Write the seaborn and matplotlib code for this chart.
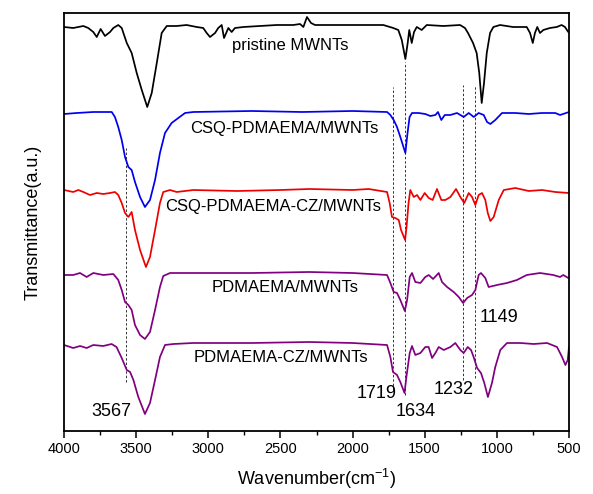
import matplotlib
matplotlib.use("Agg")
import matplotlib.pyplot as plt
import pandas as pd
import seaborn as sns
from matplotlib.ticker import MultipleLocator

# ---- data (wavenumber in cm-1, transmittance in arbitrary units, stacked) ----
pristine_wn = [4000,3936,3866,3832,3797,3773,3746,3716,3681,3658,3624,3600,3565,3531,3496,3461,3423,3392,3357,3323,
               3288,3219,3150,3080,3035,3011,2988,2953,2931,2907,2891,2861,2838,2815,2757,2642,2526,2411,2364,2341,
               2316,2288,2260,2066,1787,1718,1683,1659,1634,1618,1607,1590,1574,1555,1521,1486,1371,1255,1221,1200,
               1165,1140,1122,1105,1089,1070,1047,1024,978,888,793,770,751,736,720,701,678,632,585,551,528,505]
pristine_t = [404,403,405,403,399,394,402,395,399,403,406,403,388,378,358,341,324,338,368,398,
              405,405,406,404,403,398,394,398,403,406,393,403,399,403,404,405,406,406,407,404,
              414,408,406,406,406,403,401,391,372,388,401,388,399,404,401,406,405,406,403,398,
              388,378,358,328,348,378,398,404,406,404,404,398,388,398,404,398,401,403,404,406,404,399]

csq_wn = [4000,3912,3797,3669,3647,3624,3600,3577,3554,3531,3508,3473,3439,3404,3369,3335,3300,3254,3208,3161,
          3104,2700,2350,2000,1761,1738,1715,1692,1669,1634,1619,1605,1588,1542,1496,1461,1426,1408,1385,1361,
          1323,1276,1230,1195,1160,1126,1091,1068,1045,1011,964,872,779,687,595,562,500]
csq_t = [317,318,319,319,314,304,291,274,264,261,249,234,224,231,251,278,298,308,313,318,
         319,320,319,320,319,316,311,304,294,278,298,314,318,318,317,315,316,319,311,316,
         316,318,314,318,314,318,316,309,307,311,318,318,317,318,318,316,319]

csqcz_wn = [4000,3936,3901,3866,3820,3773,3728,3681,3647,3624,3600,3577,3554,3531,3508,3473,3432,3404,3369,3335,
            3312,3265,3219,3104,2800,2500,2300,2000,1888,1761,1743,1727,1704,1680,1664,1636,1626,1612,1600,1576,
            1553,1530,1500,1472,1445,1415,1385,1357,1322,1283,1253,1226,1195,1172,1149,1126,1103,1080,1063,1045,
            1022,987,952,872,779,687,595,500]
csqcz_t = [241,239,241,239,236,238,237,238,239,236,228,218,214,219,201,181,164,174,201,228,
           239,241,239,241,240,241,242,241,242,239,228,214,213,211,201,191,204,228,241,234,
           236,231,238,233,231,242,231,231,234,242,234,228,238,234,226,236,238,231,218,210,
           214,231,241,243,240,241,239,238]

pd_wn = [4000,3936,3889,3843,3797,3728,3658,3624,3600,3577,3554,3531,3508,3473,3439,3404,3369,3335,3312,3265,
         3104,2700,2300,2000,1761,1738,1715,1692,1669,1638,1622,1604,1588,1565,1530,1496,1472,1442,1403,1380,
         1345,1299,1264,1234,1206,1172,1149,1126,1110,1080,1057,999,930,861,793,701,609,562,540,505]
pd_t = [156,156,158,154,158,156,157,151,141,129,126,121,106,96,92,99,121,144,155,158,
        158,158,159,158,156,148,139,138,131,120,131,154,158,149,148,154,156,152,158,149,
        144,139,134,128,133,136,141,156,158,153,144,146,148,151,156,158,156,154,156,153]

pdcz_wn = [4000,3936,3889,3843,3797,3728,3670,3636,3600,3565,3542,3519,3485,3439,3404,3369,3335,3300,3242,3104,
           2700,2300,2000,1761,1738,1720,1692,1669,1640,1627,1604,1588,1565,1530,1496,1473,1449,1426,1403,1368,
           1322,1288,1253,1230,1202,1179,1161,1137,1110,1087,1062,1034,1011,976,930,838,745,652,583,548,
           525,509,500]
pdcz_t = [86,83,85,83,86,85,87,84,73,61,59,51,34,17,28,51,74,86,87,88,
          88,89,88,86,74,59,56,49,38,54,78,85,76,78,84,84,73,78,84,81,
          84,88,81,78,84,81,74,63,58,48,34,48,64,81,88,88,87,88,84,74,
          66,71,84]

series_names = ["pristine MWNTs", "CSQ-PDMAEMA/MWNTs", "CSQ-PDMAEMA-CZ/MWNTs",
                "PDMAEMA/MWNTs", "PDMAEMA-CZ/MWNTs"]
series_colors = ["#000000", "#0000EE", "#EE0000", "#800080", "#800080"]
label_wn = [2434, 2475, 2551, 2465, 2496]
label_t = [386, 303, 225, 143, 74]

peak_wn = [3567, 1719, 1634, 1232, 1149]
peak_low = [49, 41, 36, 51, 53]
peak_high = [283, 344, 369, 346, 346]
peak_text = ["3567", "1719", "1634", "1232", "1149"]
peak_text_wn = [3669, 1833, 1564, 1297, 985]
peak_text_t = [20, 37, 19, 41, 114]

# ---- build long-form table ----
frames = []
for name, wn, t in zip(series_names,
                       [pristine_wn, csq_wn, csqcz_wn, pd_wn, pdcz_wn],
                       [pristine_t, csq_t, csqcz_t, pd_t, pdcz_t]):
    frames.append(pd.DataFrame({"wn": wn, "t": t, "sample": name}))
df = pd.concat(frames, ignore_index=True)

sns.set_style("white")
plt.rcParams["font.family"] = ["Liberation Sans", "DejaVu Sans"]
plt.rcParams["text.color"] = "black"
plt.rcParams["axes.labelcolor"] = "black"
plt.rcParams["xtick.color"] = "black"
plt.rcParams["mathtext.default"] = "regular"

fig = plt.figure(figsize=(5.93, 4.94), dpi=100)
ax = fig.add_axes([64/593, 1-431/494, 505/593, 418/494])

sns.lineplot(data=df, x="wn", y="t", hue="sample", hue_order=series_names,
             palette=dict(zip(series_names, series_colors)), estimator=None,
             sort=True, linewidth=1.25, legend=False, ax=ax)

ax.vlines(peak_wn, peak_low, peak_high, colors="#333333", linestyles=(0, (2.5, 2)),
          linewidth=0.7, zorder=1)

for name, x, y in zip(series_names, label_wn, label_t):
    ax.text(x, y, name, ha="center", va="center", fontsize=12, color="black")
for s, x, y in zip(peak_text, peak_text_wn, peak_text_t):
    ax.text(x, y, s, ha="center", va="center", fontsize=13, color="black")

ax.set_xlim(4000, 500)
ax.set_ylim(0, 418)
ax.xaxis.set_major_locator(MultipleLocator(500))
ax.xaxis.set_minor_locator(MultipleLocator(250))
ax.tick_params(axis="x", which="major", direction="out", length=5, width=1.1,
               labelsize=10.5, bottom=True, pad=3, colors="black")
ax.tick_params(axis="x", which="minor", direction="out", length=3, width=1.0, bottom=True)
ax.set_yticks([])
for sp in ax.spines.values():
    sp.set_linewidth(1.3)
    sp.set_color("black")

ax.set_xlabel("Wavenumber(cm$^{-1}$)", fontsize=13, labelpad=8)
ax.set_ylabel("Transmittance(a.u.)", fontsize=13)
ax.yaxis.set_label_coords(-0.045, 0.5)

fig.savefig("out.png", dpi=100)
